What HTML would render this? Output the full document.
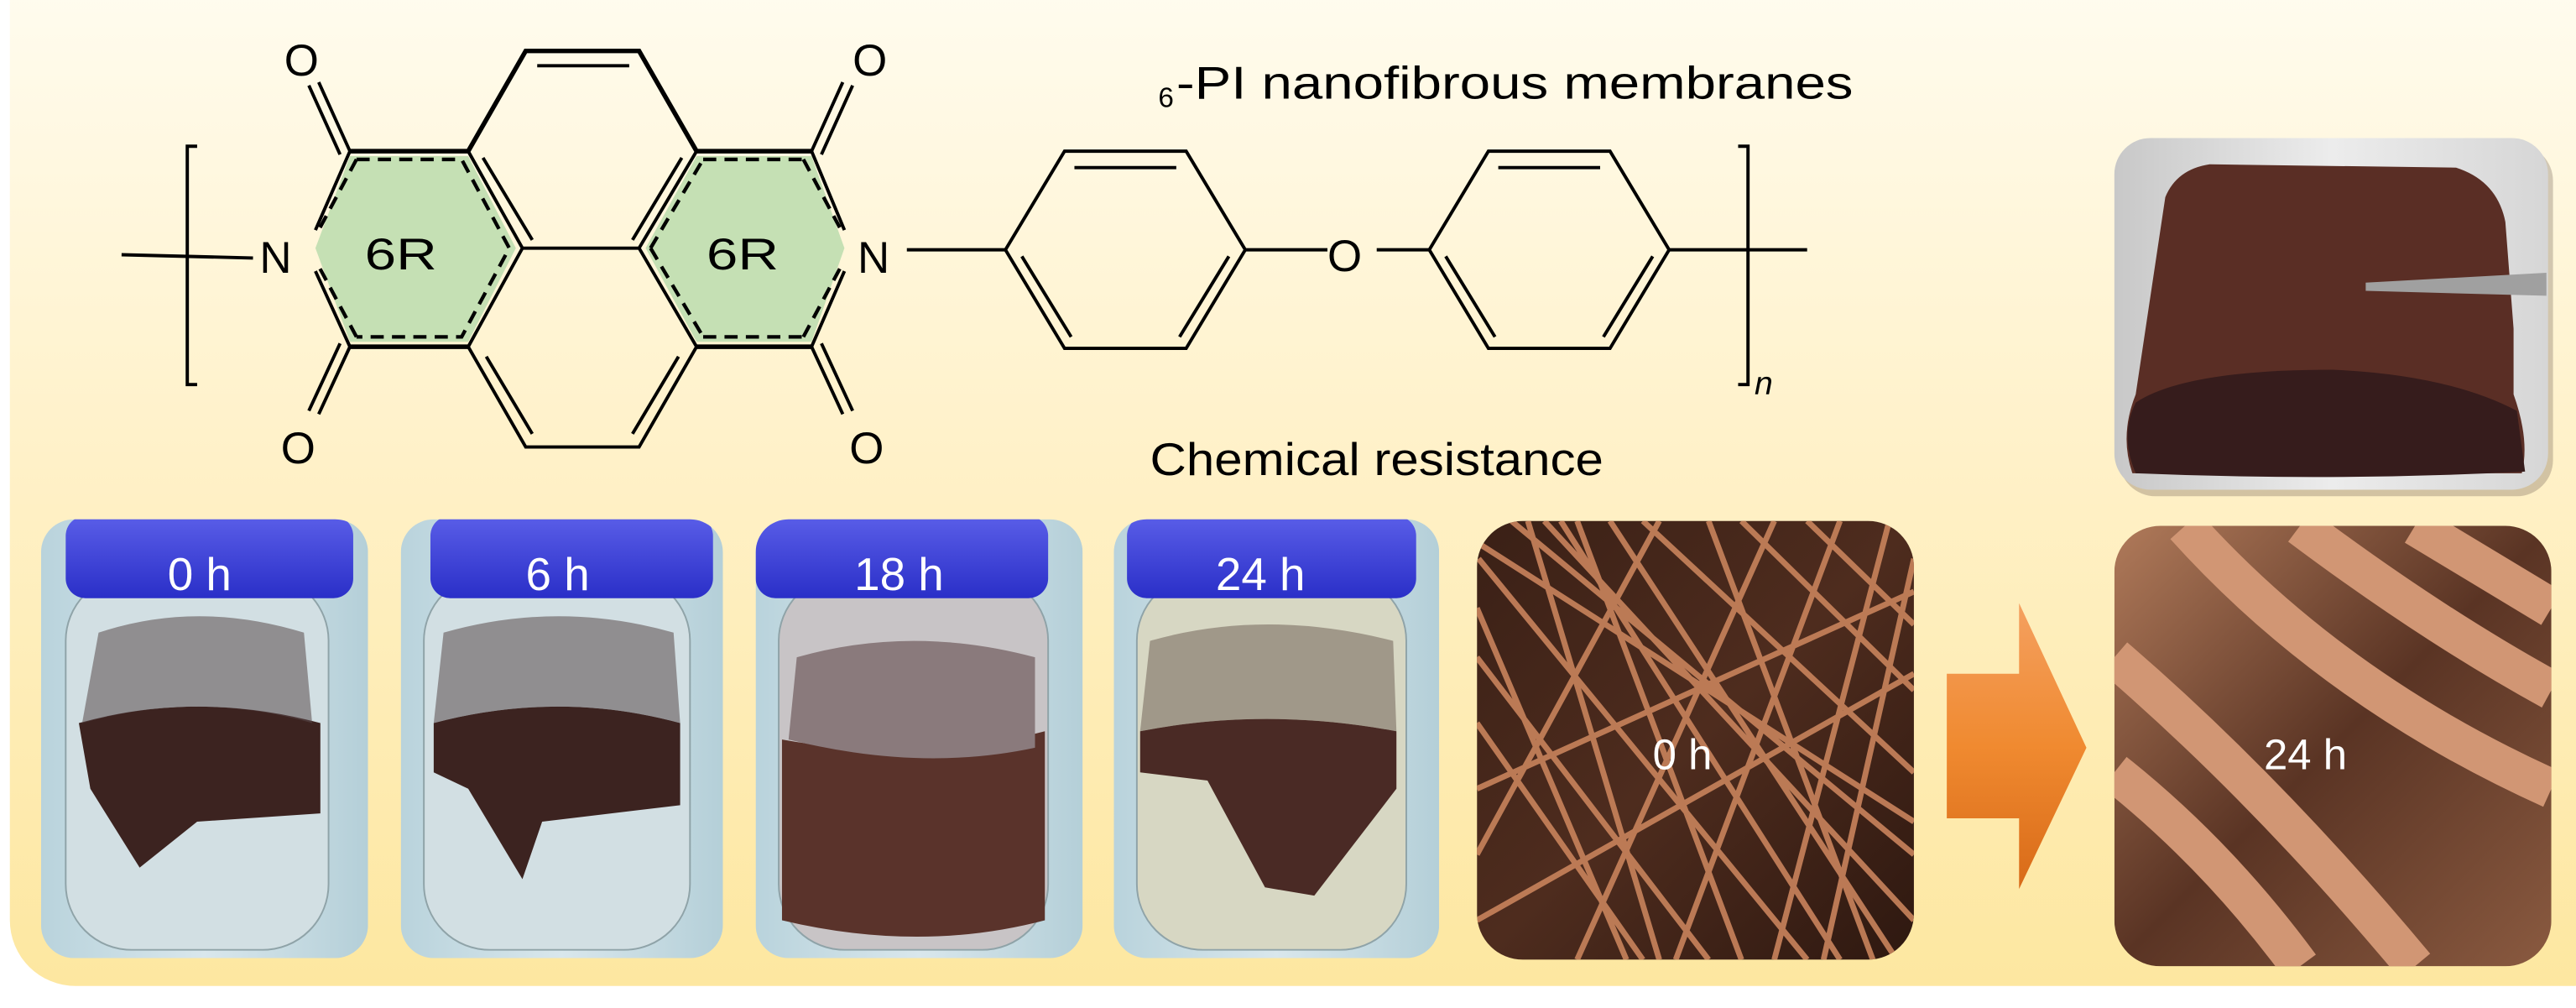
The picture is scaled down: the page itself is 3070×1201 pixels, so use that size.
<!DOCTYPE html>
<html><head><meta charset="utf-8"><style>
html,body{margin:0;padding:0;background:#fff;}
svg{display:block;}
text{font-family:"Liberation Sans",sans-serif;}
</style></head><body>
<svg width="3070" height="1201" viewBox="0 0 1568 613.4" preserveAspectRatio="none" xmlns="http://www.w3.org/2000/svg">
<defs>
<linearGradient id="bg" x1="0" y1="0" x2="0" y2="1">
<stop offset="0" stop-color="#fffdf3"/><stop offset="0.5" stop-color="#fff1c8"/><stop offset="1" stop-color="#fde7a0"/></linearGradient>
<linearGradient id="vial" x1="0" y1="0" x2="1" y2="0">
<stop offset="0" stop-color="#b9d3dc"/><stop offset="0.5" stop-color="#d9e7ec"/><stop offset="1" stop-color="#b4cfd8"/></linearGradient>
<linearGradient id="cap" x1="0" y1="0" x2="0" y2="1">
<stop offset="0" stop-color="#5a5ee8"/><stop offset="1" stop-color="#2a2fc8"/></linearGradient>
<linearGradient id="sem1" x1="0" y1="0" x2="1" y2="1">
<stop offset="0" stop-color="#3a2016"/><stop offset="0.5" stop-color="#4e2c1e"/><stop offset="1" stop-color="#2e1810"/></linearGradient>
<linearGradient id="sem2" x1="0" y1="0" x2="1" y2="1">
<stop offset="0" stop-color="#b07a5a"/><stop offset="0.5" stop-color="#5a3424"/><stop offset="1" stop-color="#8a5a40"/></linearGradient>
<linearGradient id="arr" x1="0" y1="0" x2="0" y2="1">
<stop offset="0" stop-color="#f4a060"/><stop offset="0.5" stop-color="#f08a30"/><stop offset="1" stop-color="#d86a18"/></linearGradient>
<linearGradient id="photo" x1="0" y1="0" x2="1" y2="0">
<stop offset="0" stop-color="#c8c8c8"/><stop offset="0.5" stop-color="#ececec"/><stop offset="1" stop-color="#d6d6d6"/></linearGradient>
<clipPath id="c1"><rect x="25" y="316" width="199" height="267" rx="20"/></clipPath>
<clipPath id="c2"><rect x="244" y="316" width="196" height="267" rx="20"/></clipPath>
<clipPath id="c3"><rect x="460" y="316" width="199" height="267" rx="20"/></clipPath>
<clipPath id="c4"><rect x="678" y="316" width="198" height="267" rx="20"/></clipPath>
<clipPath id="s1"><rect x="899" y="317" width="266" height="267" rx="28"/></clipPath>
<clipPath id="s2"><rect x="1287" y="320" width="266" height="268" rx="28"/></clipPath>
</defs>
<rect x="6" y="-40" width="1600" height="640" rx="40" fill="url(#bg)"/>

<!-- chemical structure -->
<g stroke="#000" stroke-width="2" fill="none">
<polygon points="213,95 285,95 314,151 285,208 213,208 192,151" fill="#c5e0b4" stroke="none"/>
<polygon points="424,95 494,95 514,151 494,208 424,208 393,151" fill="#c5e0b4" stroke="none"/>
<g stroke-dasharray="8,5" stroke-width="2.2">
<polyline points="217,97 281,97 310,151 281,205 217,205"/>
<polyline points="428,97 490,97"/><polyline points="428,205 490,205"/>
<line x1="396" y1="151" x2="428" y2="97"/><line x1="396" y1="151" x2="428" y2="205"/>
<line x1="489" y1="97" x2="512" y2="140"/><line x1="489" y1="205" x2="512" y2="162"/>
<line x1="217" y1="97" x2="194" y2="140"/><line x1="217" y1="205" x2="194" y2="162"/>
</g>
<path d="M213,92 L285,92 L320,31 L389,31 L424,92 L494,92" stroke-width="2.8"/>
<path d="M213,211 L285,211 M424,211 L494,211" stroke-width="2.8"/>
<path d="M285,92 L318,151 L285,211 L320,272 L389,272 L424,211 L389,151 L424,92 M318,151 L389,151"/>
<path d="M327,40 L383,40"/>
<path d="M294,96 L324,146 M415,96 L385,146"/>
<path d="M296,217 L324,264 M413,217 L385,264"/>
<path d="M213,92 L192,140 M213,211 L192,165 M494,92 L514,140 M494,211 L514,165"/>
<path d="M213,92 L194,50 M207,94 L188,52 M213,211 L194,252 M207,209 L188,250"/>
<path d="M494,92 L513,50 M500,94 L519,52 M494,211 L513,252 M500,209 L519,250"/>
<path d="M74,155 L154,157"/>
<path d="M120,89 L114,89 L114,234 L120,234"/>
<path d="M552,152 L612,152"/>
<polygon points="612,152 648,92 722,92 758,152 722,212 648,212"/>
<path d="M654,102 L716,102 M622,156 L652,205 M748,156 L718,205" />
<path d="M758,152 L808,152 M838,152 L870,152"/>
<polygon points="870,152 906,92 980,92 1016,152 980,212 906,212"/>
<path d="M912,102 L974,102 M880,156 L910,205 M1006,156 L976,205"/>
<path d="M1016,152 L1100,152"/>
<path d="M1058,89 L1064,89 L1064,234 L1058,234"/>
</g>
<g font-size="27" fill="#000">
<text x="158" y="166">N</text>
<text x="522" y="166">N</text>
<text x="173" y="46">O</text>
<text x="519" y="46">O</text>
<text x="171" y="282">O</text>
<text x="517" y="282">O</text>
<text x="808" y="165">O</text>
<text x="222" y="164" textLength="44" lengthAdjust="spacingAndGlyphs">6R</text>
<text x="430" y="164" textLength="44" lengthAdjust="spacingAndGlyphs">6R</text>
<text x="1068" y="240" font-style="italic" font-size="20">n</text>
<text x="705" y="65" font-size="17">6</text>
<text x="716" y="60" font-size="28" textLength="412" lengthAdjust="spacingAndGlyphs">-PI nanofibrous membranes</text>
<text x="700" y="289" font-size="28" textLength="276" lengthAdjust="spacingAndGlyphs">Chemical resistance</text>
</g>

<!-- top right photo -->
<rect x="1290" y="88" width="264" height="214" rx="22" fill="#6a5a50" opacity="0.3"/>
<rect x="1287" y="84" width="264" height="214" rx="22" fill="url(#photo)"/>
<path d="M1318,120 Q1325,103 1345,100 L1495,102 Q1520,110 1525,135 L1530,200 L1530,240 Q1540,268 1535,288 L1298,288 Q1290,265 1300,240 Z" fill="#5a2e25"/>
<path d="M1300,245 Q1330,225 1420,225 Q1490,228 1532,250 L1537,287 Q1420,293 1300,288 Q1290,265 1300,245 Z" fill="#361c1c"/>
<path d="M1440,172 L1550,166 L1550,180 L1440,177 Z" fill="#a0a0a0"/>

<!-- vials -->
<g>
<g clip-path="url(#c1)"><rect x="25" y="316" width="199" height="267" fill="url(#vial)"/>
<rect x="40" y="350" width="160" height="228" rx="40" fill="#d2dfe3" stroke="#8fa3a8"/>
<path d="M48,440 Q120,420 195,440 L195,495 L120,500 L85,528 L55,480 Z" fill="#3c2320"/>
<path d="M60,385 Q120,365 185,385 L190,440 Q120,420 50,440 Z" fill="#5a4a4c" opacity="0.55"/>
<rect x="40" y="314" width="175" height="50" rx="12" fill="url(#cap)"/></g>
<g clip-path="url(#c2)"><rect x="244" y="316" width="196" height="267" fill="url(#vial)"/>
<rect x="258" y="350" width="162" height="228" rx="40" fill="#d2dfe3" stroke="#8fa3a8"/>
<path d="M264,440 Q340,420 414,440 L414,490 L330,500 L318,535 L285,480 L264,470 Z" fill="#3c2320"/>
<path d="M270,385 Q340,365 410,385 L414,440 Q340,420 264,440 Z" fill="#5a4a4c" opacity="0.55"/>
<rect x="262" y="314" width="172" height="50" rx="12" fill="url(#cap)"/></g>
<g clip-path="url(#c3)"><rect x="460" y="316" width="199" height="267" fill="url(#vial)"/>
<rect x="474" y="350" width="164" height="228" rx="40" fill="#c8c4c6" stroke="#8fa3a8"/>
<path d="M476,450 Q560,465 636,445 L636,560 Q560,580 476,560 Z" fill="#5a332b"/>
<path d="M485,400 Q555,380 630,400 L630,455 Q560,470 480,450 Z" fill="#8a7a7c"/>
<rect x="460" y="314" width="178" height="50" rx="12" fill="url(#cap)"/></g>
<g clip-path="url(#c4)"><rect x="678" y="316" width="198" height="267" fill="url(#vial)"/>
<rect x="692" y="350" width="164" height="228" rx="40" fill="#d7d7c3" stroke="#8fa3a8"/>
<path d="M694,445 Q770,430 850,445 L850,480 L800,545 L770,540 L735,475 L694,470 Z" fill="#4a2a25"/>
<path d="M700,390 Q770,370 848,390 L850,445 Q770,430 694,445 Z" fill="#6a5a50" opacity="0.5"/>
<rect x="686" y="314" width="176" height="50" rx="12" fill="url(#cap)"/></g>
<g fill="#fff" font-size="28">
<text x="102" y="359">0 h</text>
<text x="320" y="359">6 h</text>
<text x="520" y="359">18 h</text>
<text x="740" y="359">24 h</text>
</g>
</g>

<!-- SEM -->
<g clip-path="url(#s1)"><rect x="899" y="317" width="266" height="267" fill="url(#sem1)"/>
<g stroke="#c27e58" stroke-width="3.5" fill="none" opacity="0.95">
<path d="M900,340 L1100,584 M920,317 L1165,520 M960,317 L1060,584 M1000,317 L1165,470 M899,400 L1040,584 M1080,317 L960,584 M1120,317 L1020,584 M899,480 L1165,360 M940,317 L1165,560 M899,560 L1165,410 M1040,317 L1140,584 M1150,317 L1080,584 M899,370 L990,584 M1010,317 L899,520 M1165,340 L1110,584 M930,317 L1010,584 M980,317 L1165,600 M899,440 L1000,584 M1060,317 L1165,420 M1100,317 L1165,380 M899,330 L1165,500 M950,317 L1120,584"/>
</g></g>
<text x="1006" y="468" fill="#fff" font-size="26">0 h</text>
<polygon points="1185,410 1229,410 1229,367 1270,455 1229,541 1229,498 1185,498" fill="url(#arr)"/>
<g clip-path="url(#s2)"><rect x="1287" y="320" width="266" height="268" fill="url(#sem2)"/>
<g stroke="#d19674" stroke-width="24" fill="none">
<path d="M1330,320 Q1420,420 1553,480"/><path d="M1400,320 Q1480,380 1553,420"/>
<path d="M1287,400 Q1380,480 1470,588"/><path d="M1287,470 Q1350,520 1400,588"/>
<path d="M1470,320 Q1520,350 1553,370"/>
</g></g>
<text x="1378" y="468" fill="#fff" font-size="26">24 h</text>
</svg>
</body></html>
